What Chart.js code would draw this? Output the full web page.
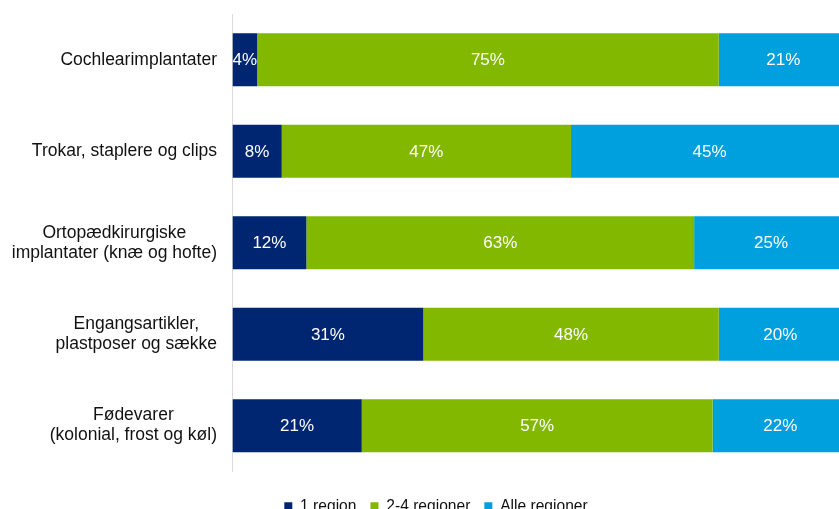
<!DOCTYPE html>
<html>
<head>
<meta charset="utf-8">
<script src="https://cdn.jsdelivr.net/npm/chart.js@4.4.0/dist/chart.umd.min.js"></script>
<style>
  html, body { margin: 0; padding: 0; background: #fff; width: 839px; height: 509px; overflow: hidden; }
  #wrap { position: absolute; left: 0; top: 0; width: 850px; height: 524px; }
</style>
</head>
<body>
<div id="wrap"><canvas id="c"></canvas></div>
<script>
const categories = [
  ["Cochlearimplantater"],
  ["Trokar, staplere og clips"],
  ["Ortopædkirurgiske", "implantater (knæ og hofte)"],
  ["Engangsartikler,", "plastposer og sække"],
  ["Fødevarer", "(kolonial, frost og køl)"]
];
const seriesNames = ["1 region", "2-4 regioner", "Alle regioner"];
const oneRegion = [4, 8, 12, 31, 21];
const someRegions = [75, 47, 63, 48, 57];
const allRegions = [21, 45, 25, 20, 22];
const seriesColors = ["#002672", "#83B800", "#00A0DF"];

const FONT = "'Liberation Sans', Arial, sans-serif";

const yLabelPlugin = {
  id: 'yLabels',
  afterDraw(chart) {
    const ctx = chart.ctx;
    const yScale = chart.scales.y;
    ctx.save();
    ctx.font = "17.5px " + FONT;
    ctx.fillStyle = "#111111";
    ctx.textBaseline = "middle";
    const rightX = 217;
    const lh = 20;
    categories.forEach((lines, i) => {
      const cy = yScale.getPixelForValue(i);
      const maxW = Math.max(...lines.map(l => ctx.measureText(l).width));
      const cx = rightX - maxW / 2;
      ctx.textAlign = "center";
      const startY = cy - (lines.length - 1) * lh / 2;
      lines.forEach((l, j) => ctx.fillText(l, cx, startY + j * lh));
    });
    ctx.restore();
  }
};

const valueLabelPlugin = {
  id: 'valueLabels',
  afterDatasetsDraw(chart) {
    const ctx = chart.ctx;
    ctx.save();
    ctx.font = "17px " + FONT;
    ctx.fillStyle = "#ffffff";
    ctx.textAlign = "center";
    ctx.textBaseline = "middle";
    chart.data.datasets.forEach((ds, di) => {
      const meta = chart.getDatasetMeta(di);
      meta.data.forEach((bar, i) => {
        const cx = (bar.x + bar.base) / 2;
        ctx.fillText(ds.data[i] + "%", cx, bar.y + 1);
      });
    });
    ctx.restore();
  }
};

new Chart(document.getElementById('c'), {
  type: 'bar',
  data: {
    labels: categories,
    datasets: [
      { label: seriesNames[0], data: oneRegion, backgroundColor: seriesColors[0] },
      { label: seriesNames[1], data: someRegions, backgroundColor: seriesColors[1] },
      { label: seriesNames[2], data: allRegions, backgroundColor: seriesColors[2] }
    ]
  },
  options: {
    indexAxis: 'y',
    responsive: true,
    maintainAspectRatio: false,
    animation: false,
    layout: { padding: { left: 24, right: 2, top: 14, bottom: 0 } },
    datasets: { bar: { barPercentage: 0.58, categoryPercentage: 1.0, borderWidth: 0 } },
    scales: {
      x: {
        stacked: true, min: 0, max: 100,
        display: true,
        ticks: { display: false },
        grid: { display: false },
        border: { display: false },
        afterFit(scale) { scale.height = 13; }
      },
      y: {
        stacked: true,
        ticks: { display: false },
        grid: { display: false },
        border: { display: true, color: '#d9d9d9', width: 1 },
        afterFit(scale) { scale.width = 208.5; }
      }
    },
    plugins: {
      legend: {
        position: 'bottom',
        labels: {
          boxWidth: 8, boxHeight: 8, padding: 14,
          color: '#111111',
          font: { family: FONT, size: 15.6 }
        }
      },
      tooltip: { enabled: false }
    }
  },
  plugins: [yLabelPlugin, valueLabelPlugin]
});
</script>
</body>
</html>
